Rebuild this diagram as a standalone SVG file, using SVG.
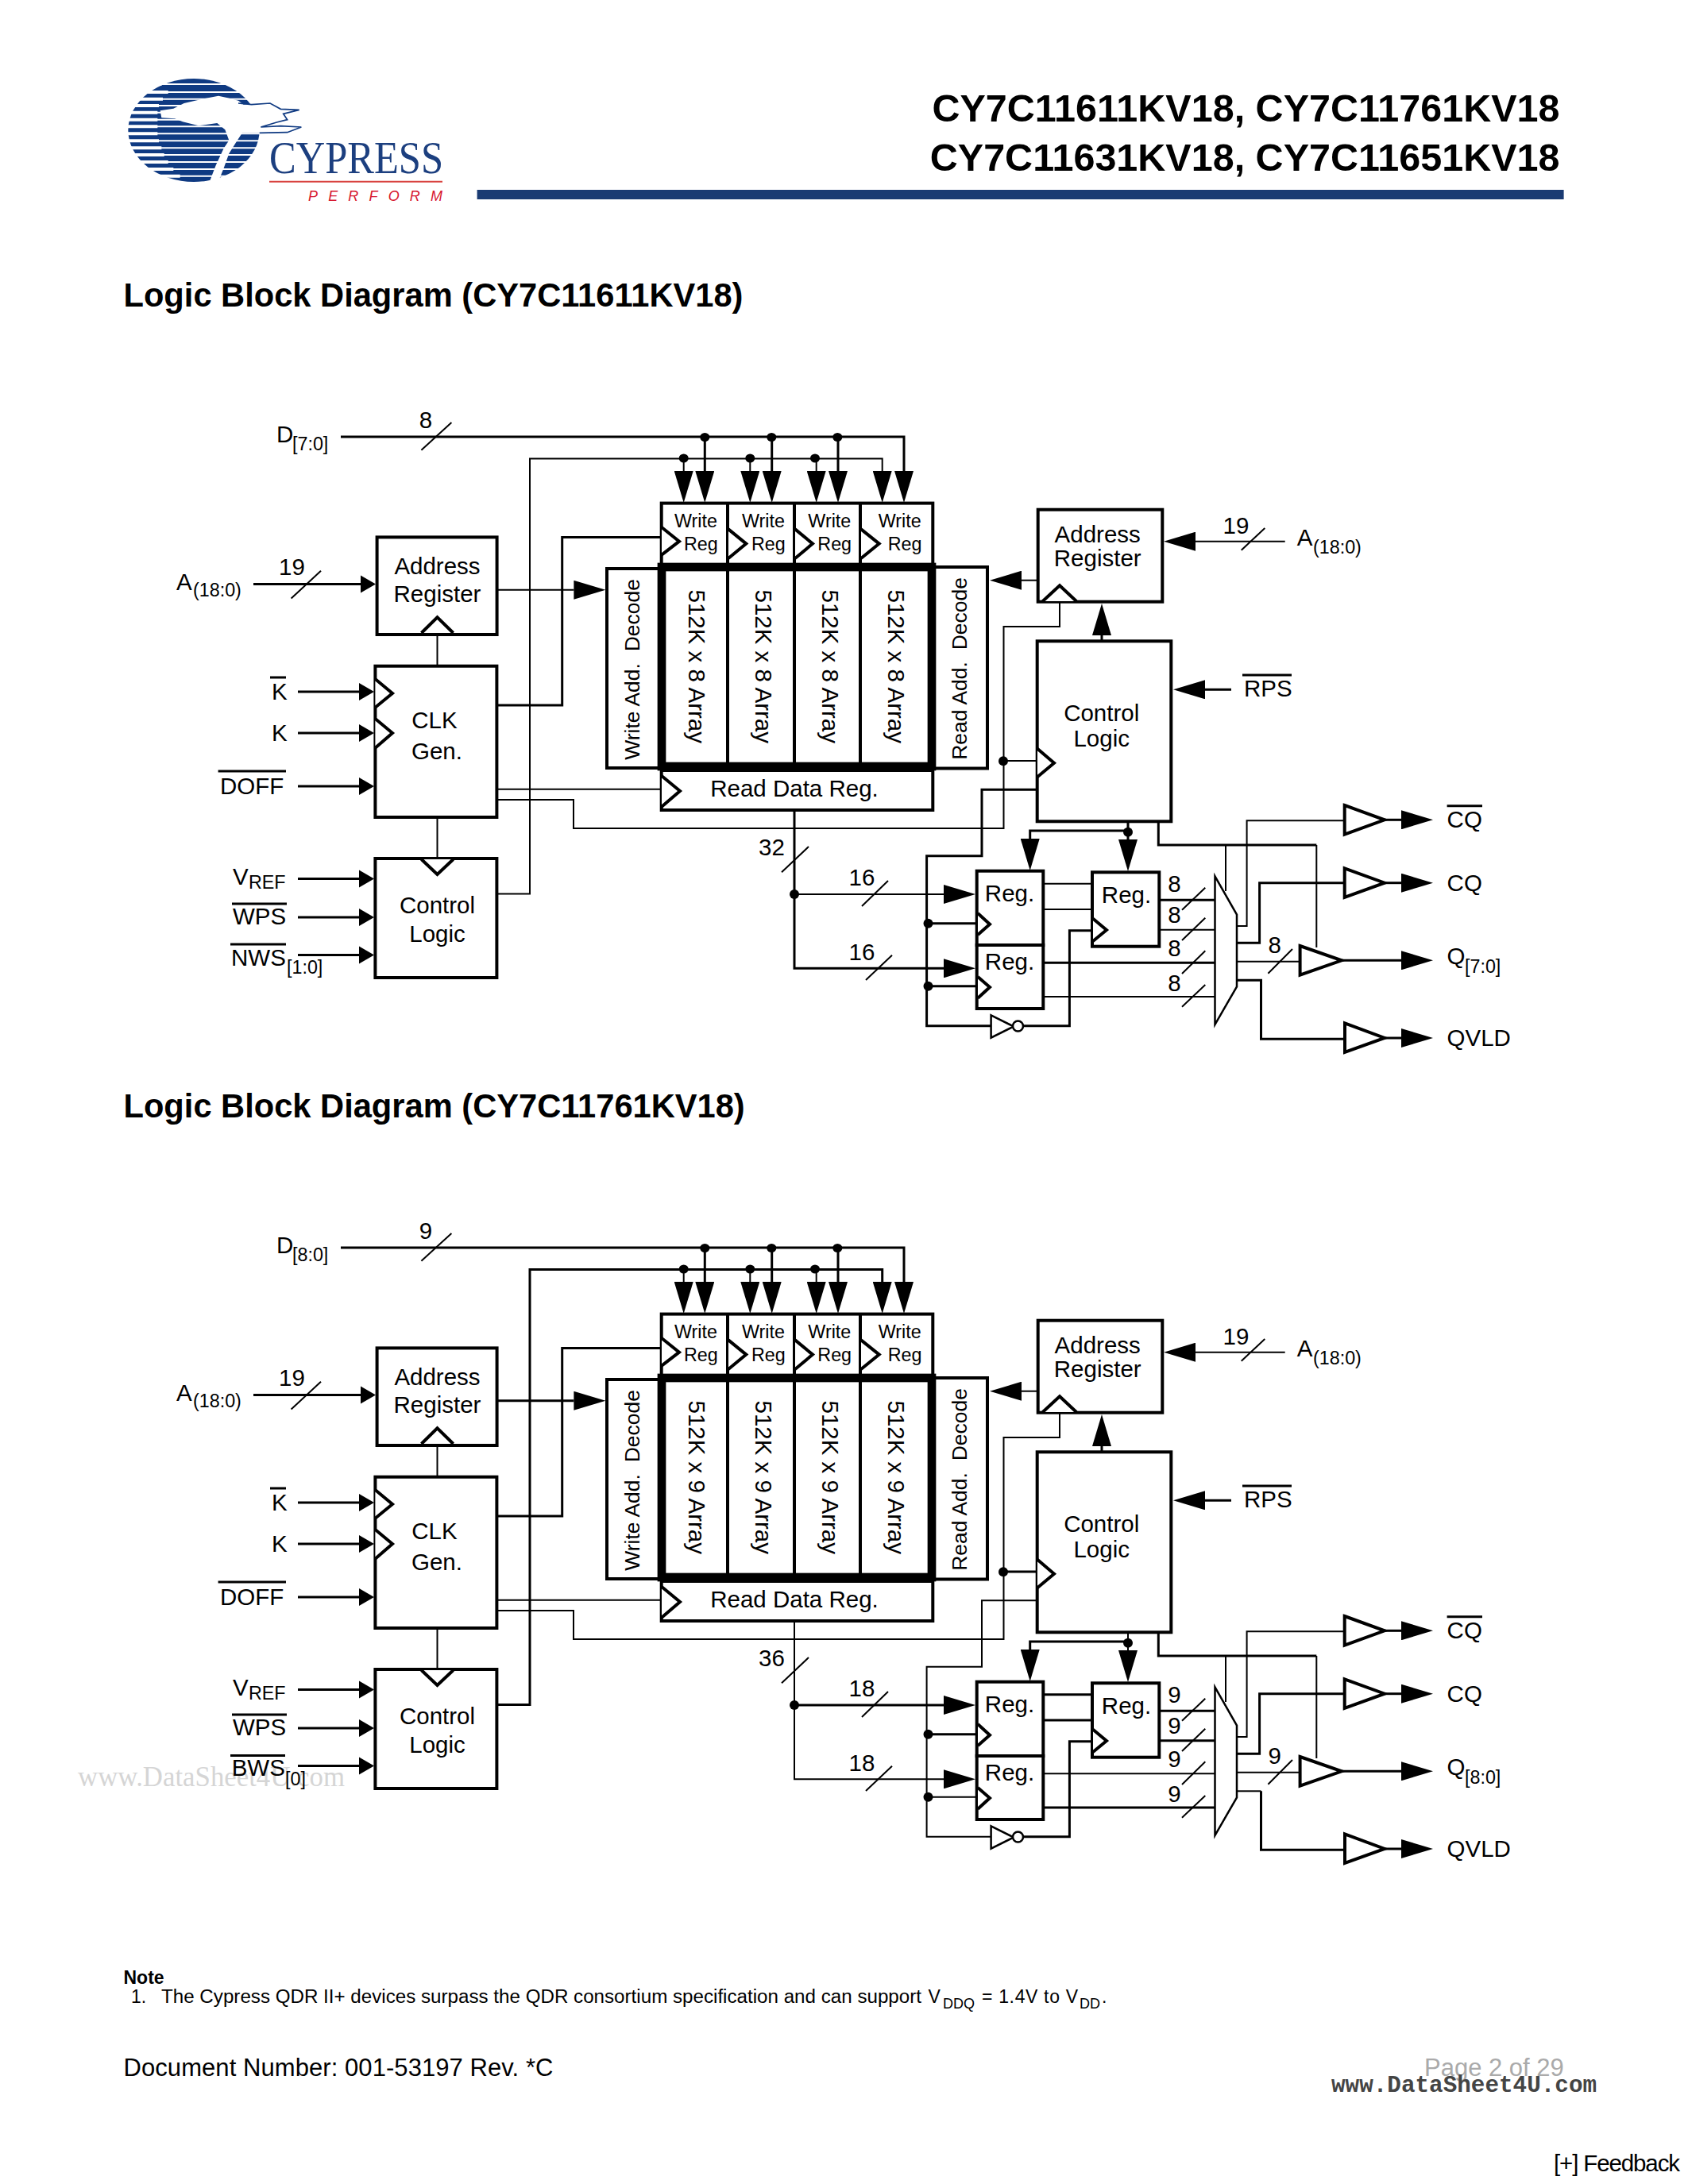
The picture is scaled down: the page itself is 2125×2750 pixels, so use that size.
<svg xmlns="http://www.w3.org/2000/svg" width="2125" height="2750" viewBox="0 0 2125 2750">
<style>
text{font-family:"Liberation Sans",Arial,sans-serif;fill:#000;font-size:29.5px}
.m{text-anchor:middle}
.s{font-size:23.3px}
.d{font-size:26.5px;white-space:pre}
.b{font-weight:bold}
.x{fill:#fff;stroke:#000;stroke-width:4}
.tri{fill:#fff;stroke:#000;stroke-width:4}
.th{fill:#fff;stroke:#000;stroke-width:2.5}
.l{fill:none;stroke:#000;stroke-width:3}
.h{fill:none;stroke:#000;stroke-width:2}
.dot{fill:#000}
.as{marker-end:url(#as)}
.al{marker-end:url(#al)}
</style>
<defs>
<marker id="as" markerUnits="userSpaceOnUse" markerWidth="20" markerHeight="24" refX="0" refY="12" orient="auto"><path d="M0,1 L19,12 L0,23z"/></marker>
<marker id="al" markerUnits="userSpaceOnUse" markerWidth="41" markerHeight="24" refX="0" refY="12" orient="auto"><path d="M0,0 L40,12 L0,24z"/></marker>
</defs>
<rect width="2125" height="2750" fill="#fff"/>
<g id="logo">
<g transform="translate(140,80) scale(.33333)">
<ellipse cx="312" cy="252" rx="248" ry="195" fill="#0f3a82"/>
<path d="M50,78H580M50,108H580M50,134H580M50,159H580M50,185H580M50,212H580M50,238H580M50,265H580M50,292H580M50,319H580M50,345H580M50,372H580M50,399H580M50,425H580" fill="none" stroke="#fff" stroke-width="6"/>
<path d="M50,78H190M50,108H215M50,134H195M50,159H180M50,185H175M50,212H175M50,238H175M50,265H175M50,292H180M50,319H190M50,345H200M50,372H215M50,399H235M50,425H260" fill="none" stroke="#fff" stroke-width="12"/>
<path d="M185,178 L235,170 L275,150 L340,135 L405,122 L440,130 L480,140 L500,155 L560,150 L610,155 L640,172 L710,175 L650,190 L665,212 L625,222 L565,240 L640,236 L718,240 L665,260 L560,262 L495,262 L470,300 L445,340 L425,395 L405,445 L372,445 L395,385 L425,320 L445,290 L430,250 L400,225 L330,235 L270,220 L240,208 L190,205 Z" fill="#fff"/>
<path d="M480,150 L530,155 L600,150 L640,172 L710,175 L650,190 L665,212 L625,222 L565,240 L640,236 L718,240 L665,260 L560,262" fill="none" stroke="#0f3a82" stroke-width="5"/>
</g>
<text x="339" y="218.3" textLength="219" lengthAdjust="spacingAndGlyphs" style="font-family:'Liberation Serif',serif;font-size:58px;fill:#1c3f7f">CYPRESS</text>
<line x1="339" y1="228.7" x2="557" y2="228.7" stroke="#d9433f" stroke-width="2"/>
<text x="388" y="252.7" textLength="169" style="font-size:18px;font-style:italic;fill:#d7172f">PERFORM</text>
</g>
<g id="header">
<text class="b" x="1963.5" y="152.7" text-anchor="end" style="font-size:48.5px">CY7C11611KV18, CY7C11761KV18</text>
<text class="b" x="1963.5" y="215" text-anchor="end" style="font-size:48.5px">CY7C11631KV18, CY7C11651KV18</text>
<rect x="600.6" y="239" width="1368" height="12" fill="#1a3b73"/>
<text class="b" x="155.5" y="386" style="font-size:41.65px">Logic Block Diagram (CY7C11611KV18)</text>
<text class="b" x="155.5" y="1407" style="font-size:41.65px">Logic Block Diagram (CY7C11761KV18)</text>
</g>
<text id="watermark-left" x="98" y="2248.7" textLength="336" lengthAdjust="spacingAndGlyphs" style="font-family:'Liberation Serif',serif;font-size:35px;fill:#d5d5d5">www.DataSheet4U.com</text>

<g id="diagram1">
<g id="d1-nodes">
<g id="d1-addr-left"><rect class="x" x="474.6" y="676.4" width="151" height="122.6"/><polyline class="tri" points="530.5,797 550.5,777.4 570.6,797"/><text class="m" x="550.5" y="723">Address</text><text class="m" x="550.5" y="758">Register</text></g>
<g id="d1-clkgen"><rect class="x" x="472.4" y="838.7" width="153" height="190.3"/><polyline class="tri" points="472.4,855 494,873 472.4,890.7"/><polyline class="tri" points="472.4,905 494,923 472.4,941.7"/><text class="m" x="547" y="917">CLK</text><text class="m" x="550" y="955.5">Gen.</text></g>
<g id="d1-ctrl-left"><rect class="x" x="472.4" y="1081" width="153" height="150"/><polyline class="tri" points="530.5,1082 550.5,1101 570.6,1082"/><text class="m" x="550.5" y="1150">Control</text><text class="m" x="550.5" y="1185.6">Logic</text></g>
<g id="d1-write-decode"><rect class="x" x="764" y="716" width="66" height="251"/><text class="d" transform="rotate(-90 805 956.8)" x="805" y="956.8">Write Add.&#160; Decode</text></g>
<g id="d1-read-decode"><rect class="x" x="1176" y="714" width="67" height="253.5"/><text class="d" transform="rotate(-90 1217.3 956.8)" x="1217.3" y="956.8">Read Add.&#160; Decode</text></g>
<g id="d1-write-regs"><rect class="x" x="832.7" y="633.6" width="341.6" height="78"/><path class="x" d="M916,634V710M1000,634V710M1083,634V710"/>
<polyline class="tri" points="833,664 855,681.6 833,698.6"/><polyline class="tri" points="917,666.4 939.3,684.6 917,703"/><polyline class="tri" points="1001,666.4 1023,684.6 1001,703"/><polyline class="tri" points="1084,666.4 1106.7,684.6 1084,703"/>
<text class="s m" x="876" y="664">Write</text><text class="s m" x="882.3" y="692.5">Reg</text><text class="s m" x="961" y="664">Write</text><text class="s m" x="967.3" y="692.5">Reg</text><text class="s m" x="1044.3" y="664">Write</text><text class="s m" x="1050.7" y="692.5">Reg</text><text class="s m" x="1132.7" y="664">Write</text><text class="s m" x="1139" y="692.5">Reg</text></g>
<g id="d1-array"><rect x="833" y="714" width="340" height="251" fill="#fff" stroke="#000" stroke-width="10.7"/><path class="x" d="M916,714V965M1000,714V965M1083,714V965"/>
<text transform="rotate(90 867.3 742.5)" x="867.3" y="742.5">512K x 8 Array</text><text transform="rotate(90 950.7 742.5)" x="950.7" y="742.5">512K x 8 Array</text><text transform="rotate(90 1034.7 742.5)" x="1034.7" y="742.5">512K x 8 Array</text><text transform="rotate(90 1117.7 742.5)" x="1117.7" y="742.5">512K x 8 Array</text></g>
<g id="d1-read-data"><rect class="x" x="832.7" y="970" width="341.6" height="50"/><polyline class="tri" points="833,977 856,996 833,1015.7"/><text class="m" x="1000" y="1003">Read Data Reg.</text></g>
<g id="d1-addr-right"><rect class="x" x="1306.7" y="641.7" width="156.6" height="116"/><polyline class="tri" points="1312.7,757 1334,737.3 1355,757"/><text class="m" x="1381.7" y="683.3">Address</text><text class="m" x="1381.7" y="713.3">Register</text></g>
<g id="d1-ctrl-right"><rect class="x" x="1305.7" y="807.3" width="168.6" height="227"/><polyline class="tri" points="1306,942.7 1327,960.7 1306,978.3"/><text class="m" x="1386.7" y="908.3">Control</text><text class="m" x="1386.7" y="940">Logic</text></g>
<g id="d1-reg1"><rect class="x" x="1229.7" y="1096.7" width="83.6" height="93.3"/><polyline class="tri" points="1231,1150 1246,1163.7 1231,1177"/><text class="m" x="1271" y="1135">Reg.</text></g>
<g id="d1-reg2"><rect class="x" x="1229.7" y="1190" width="83.6" height="80"/><polyline class="tri" points="1231,1230 1246,1243 1231,1256.7"/><text class="m" x="1271" y="1221">Reg.</text></g>
<g id="d1-reg3"><rect class="x" x="1375" y="1098.3" width="84.3" height="93.4"/><polyline class="tri" points="1376,1156.7 1393,1171 1376,1185"/><text class="m" x="1418" y="1136.7">Reg.</text></g>
<g id="d1-mux"><polygon class="th" points="1529.5,1103.3 1557,1151.7 1557,1242.3 1529.5,1290"/></g>
<g id="d1-inv"><polygon class="th" points="1247.6,1278.3 1276,1292.5 1247.6,1306.7"/><ellipse class="th" cx="1281.5" cy="1292" rx="6.5" ry="6.5"/></g>
<g id="d1-buf-cqb"><polygon class="tri" points="1692.7,1014 1743,1032.3 1692.7,1050.7"/></g>
<g id="d1-buf-cq"><polygon class="tri" points="1692.7,1093.3 1743,1111.7 1692.7,1130"/></g>
<g id="d1-buf-q"><polygon class="tri" points="1636.6,1191 1689,1209.3 1636.6,1227.7"/></g>
<g id="d1-buf-qvld"><polygon class="tri" points="1693,1288.3 1743,1307 1693,1325"/></g>
</g>
<g id="d1-connectors">
<path class="l al" d="M429,550H1138V593"/><path class="l al" d="M887.3,550V593"/><path class="l al" d="M971.7,550V593"/><path class="l al" d="M1055,550V593"/>
<path class="h" d="M530.4,566.7L568.4,532"/>
<path class="h al" d="M625.5,1125.4H667V577.5H1110.7V593"/><path class="h al" d="M860.7,577.5V593"/><path class="h al" d="M944.3,577.5V593"/><path class="h al" d="M1027.7,577.5V593"/>
<ellipse class="dot" cx="887.3" cy="550.5" rx="6" ry="5.5"/><ellipse class="dot" cx="971.3" cy="550.5" rx="6" ry="5.5"/><ellipse class="dot" cx="1054.3" cy="550.5" rx="6" ry="5.5"/><ellipse class="dot" cx="860.7" cy="577" rx="6" ry="5.5"/><ellipse class="dot" cx="944.3" cy="577" rx="6" ry="5.5"/><ellipse class="dot" cx="1026" cy="577" rx="6" ry="5.5"/>
<path class="l as" d="M319,735.6H454"/><path class="h" d="M366.6,753.5L404,718.8"/>
<path class="h al" d="M625.5,742.8H722.4"/><path class="h" d="M550.5,799V838.7M550.5,1029V1082"/>
<path class="l as" d="M375,871H452"/><path class="l as" d="M375,923H452"/><path class="l as" d="M375,990H452"/><path class="l as" d="M375,1106.5H452"/><path class="l as" d="M375,1155H452"/><path class="l as" d="M375,1202.5H452"/>
<path class="l" d="M625.5,888H707.7V676.4H832"/><path class="h" d="M625.5,993.8H832"/><path class="h" d="M625.5,1007H722V1043H1263.5V789H1334V757"/>
<ellipse class="dot" cx="1263" cy="958.3" rx="6" ry="6"/><path class="h" d="M1263,958H1306"/>
<path class="l al" d="M1000,1020V1219.3H1188"/><path class="h al" d="M1000,1126H1188"/><ellipse class="dot" cx="1000" cy="1126" rx="6" ry="6"/>
<path class="h" d="M984,1098.3L1018,1066M1085,1141L1118,1109M1090,1234L1123,1202.7"/>
<path class="l" d="M1305,994.3H1236V1077.7H1166.6V1291.7H1247.6"/><path class="l" d="M1168,1162.7H1231"/><path class="l" d="M1168,1241.7H1231"/><ellipse class="dot" cx="1168.5" cy="1162.7" rx="6" ry="6"/><ellipse class="dot" cx="1168.5" cy="1241.7" rx="6" ry="6"/>
<path class="l" d="M1288,1291.7H1346.4V1171.7H1375"/><path class="h" d="M1313.3,1112.7H1375M1313.3,1145H1375"/>
<path class="l" d="M1459,1133.3H1529.5M1313.3,1212.3H1529.5"/><path class="h" d="M1459,1170.7H1529.5M1313.3,1255H1529.5"/>
<path class="h" d="M1488,1145.7L1517.3,1117.7M1488,1184L1517.3,1155.7M1488,1226L1517.3,1197.3M1488,1267.7L1517.3,1240M1596.4,1225.7L1627,1195"/>
<path class="l al" d="M1420,1034V1057"/><path class="l al" d="M1420,1046H1296.7V1056"/><ellipse class="dot" cx="1420" cy="1047.7" rx="6" ry="6"/>
<path class="l" d="M1458.3,1034V1064H1657.3"/><path class="h" d="M1657.3,1064V1193"/><path class="h" d="M1543,1064V1122"/>
<path class="h" d="M1557,1166H1569.6V1033.3H1692.7"/><path class="l" d="M1557,1187.3H1585.6V1111.7H1692.7"/><path class="h" d="M1557,1210.7H1636.6"/><path class="l" d="M1557,1234.3H1587.5V1308.3H1693"/>
<path class="l al" d="M1743,1032.3H1764"/><path class="l al" d="M1743,1111.7H1764"/><path class="l al" d="M1689,1209.3H1764"/><path class="l al" d="M1743,1307H1764"/>
<path class="h al" d="M1617.7,681.7H1505"/><path class="h" d="M1562.7,692.7L1592.3,665"/><path class="h al" d="M1306.7,730.7H1286"/><path class="l al" d="M1387,807V800"/><path class="l al" d="M1550,868.3H1517"/>
</g>
<g id="d1-labels">
<text x="348" y="556.5">D</text><text class="s" x="368" y="567">[7:0]</text><text class="m" x="536" y="538.7">8</text>
<text x="222" y="743">A</text><text class="s" x="243" y="751">(18:0)</text><text class="m" x="367.5" y="724">19</text>
<text x="342" y="880.5">K</text><path class="l" d="M340,853H360"/><text x="342" y="932.5">K</text>
<text x="277" y="1000.4">DOFF</text><path class="l" d="M274.6,971H360"/>
<text x="293" y="1114">V</text><text class="s" x="313" y="1119">REF</text>
<text x="293" y="1164">WPS</text><path class="l" d="M292,1138H361"/>
<text x="291" y="1216">NWS</text><text class="s" x="361" y="1226.4">[1:0]</text><path class="l" d="M290,1189H360"/>
<text class="m" x="1556" y="672.3">19</text><text x="1632.7" y="687.3">A</text><text class="s" x="1653" y="696.7">(18:0)</text>
<text x="1566" y="876.7">RPS</text><path class="l" d="M1564,850H1626"/>
<text class="m" x="971.4" y="1077.3">32</text><text class="m" x="1085" y="1115.3">16</text><text class="m" x="1085" y="1209.3">16</text>
<text class="m" x="1478.5" y="1123.3">8</text><text class="m" x="1478.5" y="1162.3">8</text><text class="m" x="1478.5" y="1204">8</text><text class="m" x="1478.5" y="1247.7">8</text><text class="m" x="1604.7" y="1200">8</text>
<text x="1821.6" y="1042.3">CQ</text><path class="l" d="M1821.6,1014.7H1866"/><text x="1821.6" y="1121.7">CQ</text><text x="1821.6" y="1214">Q</text><text class="s" x="1844" y="1225">[7:0]</text><text x="1821.6" y="1316.7">QVLD</text>
</g>
</g>

<g id="diagram2" transform="translate(0,1021)">
<g id="d2-nodes">
<g id="d2-addr-left"><rect class="x" x="474.6" y="676.4" width="151" height="122.6"/><polyline class="tri" points="530.5,797 550.5,777.4 570.6,797"/><text class="m" x="550.5" y="723">Address</text><text class="m" x="550.5" y="758">Register</text></g>
<g id="d2-clkgen"><rect class="x" x="472.4" y="838.7" width="153" height="190.3"/><polyline class="tri" points="472.4,855 494,873 472.4,890.7"/><polyline class="tri" points="472.4,905 494,923 472.4,941.7"/><text class="m" x="547" y="917">CLK</text><text class="m" x="550" y="955.5">Gen.</text></g>
<g id="d2-ctrl-left"><rect class="x" x="472.4" y="1081" width="153" height="150"/><polyline class="tri" points="530.5,1082 550.5,1101 570.6,1082"/><text class="m" x="550.5" y="1150">Control</text><text class="m" x="550.5" y="1185.6">Logic</text></g>
<g id="d2-write-decode"><rect class="x" x="764" y="716" width="66" height="251"/><text class="d" transform="rotate(-90 805 956.8)" x="805" y="956.8">Write Add.&#160; Decode</text></g>
<g id="d2-read-decode"><rect class="x" x="1176" y="714" width="67" height="253.5"/><text class="d" transform="rotate(-90 1217.3 956.8)" x="1217.3" y="956.8">Read Add.&#160; Decode</text></g>
<g id="d2-write-regs"><rect class="x" x="832.7" y="633.6" width="341.6" height="78"/><path class="x" d="M916,634V710M1000,634V710M1083,634V710"/>
<polyline class="tri" points="833,664 855,681.6 833,698.6"/><polyline class="tri" points="917,666.4 939.3,684.6 917,703"/><polyline class="tri" points="1001,666.4 1023,684.6 1001,703"/><polyline class="tri" points="1084,666.4 1106.7,684.6 1084,703"/>
<text class="s m" x="876" y="664">Write</text><text class="s m" x="882.3" y="692.5">Reg</text><text class="s m" x="961" y="664">Write</text><text class="s m" x="967.3" y="692.5">Reg</text><text class="s m" x="1044.3" y="664">Write</text><text class="s m" x="1050.7" y="692.5">Reg</text><text class="s m" x="1132.7" y="664">Write</text><text class="s m" x="1139" y="692.5">Reg</text></g>
<g id="d2-array"><rect x="833" y="714" width="340" height="251" fill="#fff" stroke="#000" stroke-width="10.7"/><path class="x" d="M916,714V965M1000,714V965M1083,714V965"/>
<text transform="rotate(90 867.3 742.5)" x="867.3" y="742.5">512K x 9 Array</text><text transform="rotate(90 950.7 742.5)" x="950.7" y="742.5">512K x 9 Array</text><text transform="rotate(90 1034.7 742.5)" x="1034.7" y="742.5">512K x 9 Array</text><text transform="rotate(90 1117.7 742.5)" x="1117.7" y="742.5">512K x 9 Array</text></g>
<g id="d2-read-data"><rect class="x" x="832.7" y="970" width="341.6" height="50"/><polyline class="tri" points="833,977 856,996 833,1015.7"/><text class="m" x="1000" y="1003">Read Data Reg.</text></g>
<g id="d2-addr-right"><rect class="x" x="1306.7" y="641.7" width="156.6" height="116"/><polyline class="tri" points="1312.7,757 1334,737.3 1355,757"/><text class="m" x="1381.7" y="683.3">Address</text><text class="m" x="1381.7" y="713.3">Register</text></g>
<g id="d2-ctrl-right"><rect class="x" x="1305.7" y="807.3" width="168.6" height="227"/><polyline class="tri" points="1306,942.7 1327,960.7 1306,978.3"/><text class="m" x="1386.7" y="908.3">Control</text><text class="m" x="1386.7" y="940">Logic</text></g>
<g id="d2-reg1"><rect class="x" x="1229.7" y="1096.7" width="83.6" height="93.3"/><polyline class="tri" points="1231,1150 1246,1163.7 1231,1177"/><text class="m" x="1271" y="1135">Reg.</text></g>
<g id="d2-reg2"><rect class="x" x="1229.7" y="1190" width="83.6" height="80"/><polyline class="tri" points="1231,1230 1246,1243 1231,1256.7"/><text class="m" x="1271" y="1221">Reg.</text></g>
<g id="d2-reg3"><rect class="x" x="1375" y="1098.3" width="84.3" height="93.4"/><polyline class="tri" points="1376,1156.7 1393,1171 1376,1185"/><text class="m" x="1418" y="1136.7">Reg.</text></g>
<g id="d2-mux"><polygon class="th" points="1529.5,1103.3 1557,1151.7 1557,1242.3 1529.5,1290"/></g>
<g id="d2-inv"><polygon class="th" points="1247.6,1278.3 1276,1292.5 1247.6,1306.7"/><ellipse class="th" cx="1281.5" cy="1292" rx="6.5" ry="6.5"/></g>
<g id="d2-buf-cqb"><polygon class="tri" points="1692.7,1014 1743,1032.3 1692.7,1050.7"/></g>
<g id="d2-buf-cq"><polygon class="tri" points="1692.7,1093.3 1743,1111.7 1692.7,1130"/></g>
<g id="d2-buf-q"><polygon class="tri" points="1636.6,1191 1689,1209.3 1636.6,1227.7"/></g>
<g id="d2-buf-qvld"><polygon class="tri" points="1693,1288.3 1743,1307 1693,1325"/></g>
</g>
<g id="d2-connectors">
<path class="l al" d="M429,550H1138V593"/><path class="l al" d="M887.3,550V593"/><path class="l al" d="M971.7,550V593"/><path class="l al" d="M1055,550V593"/>
<path class="h" d="M530.4,566.7L568.4,532"/>
<path class="l al" d="M625.5,1125.4H667V577.5H1110.7V593"/><path class="h al" d="M860.7,577.5V593"/><path class="h al" d="M944.3,577.5V593"/><path class="h al" d="M1027.7,577.5V593"/>
<ellipse class="dot" cx="887.3" cy="550.5" rx="6" ry="5.5"/><ellipse class="dot" cx="971.3" cy="550.5" rx="6" ry="5.5"/><ellipse class="dot" cx="1054.3" cy="550.5" rx="6" ry="5.5"/><ellipse class="dot" cx="860.7" cy="577" rx="6" ry="5.5"/><ellipse class="dot" cx="944.3" cy="577" rx="6" ry="5.5"/><ellipse class="dot" cx="1026" cy="577" rx="6" ry="5.5"/>
<path class="l as" d="M319,735.6H454"/><path class="h" d="M366.6,753.5L404,718.8"/>
<path class="l al" d="M625.5,742.8H722.4"/><path class="h" d="M550.5,799V838.7M550.5,1029V1082"/>
<path class="l as" d="M375,871H452"/><path class="l as" d="M375,923H452"/><path class="l as" d="M375,990H452"/><path class="l as" d="M375,1106.5H452"/><path class="l as" d="M375,1155H452"/><path class="l as" d="M375,1202.5H452"/>
<path class="l" d="M625.5,888H707.7V676.4H832"/><path class="h" d="M625.5,993.8H832"/><path class="h" d="M625.5,1007H722V1043H1263.5V789H1334V757"/>
<ellipse class="dot" cx="1263" cy="958.3" rx="6" ry="6"/><path class="l" d="M1263,958H1306"/>
<path class="h al" d="M1000,1020V1219.3H1188"/><path class="l al" d="M1000,1126H1188"/><ellipse class="dot" cx="1000" cy="1126" rx="6" ry="6"/>
<path class="h" d="M984,1098.3L1018,1066M1085,1141L1118,1109M1090,1234L1123,1202.7"/>
<path class="h" d="M1305,994.3H1236V1077.7H1166.6V1291.7H1247.6"/><path class="l" d="M1168,1162.7H1231"/><path class="h" d="M1168,1241.7H1231"/><ellipse class="dot" cx="1168.5" cy="1162.7" rx="6" ry="6"/><ellipse class="dot" cx="1168.5" cy="1241.7" rx="6" ry="6"/>
<path class="l" d="M1288,1291.7H1346.4V1171.7H1375"/><path class="l" d="M1313.3,1112.7H1375M1313.3,1145H1375"/>
<path class="l" d="M1459,1133.3H1529.5M1459,1170.7H1529.5M1313.3,1255H1529.5"/><path class="h" d="M1313.3,1212.3H1529.5"/>
<path class="h" d="M1488,1145.7L1517.3,1117.7M1488,1184L1517.3,1155.7M1488,1226L1517.3,1197.3M1488,1267.7L1517.3,1240M1596.4,1225.7L1627,1195"/>
<path class="h al" d="M1420,1034V1057"/><path class="l al" d="M1420,1046H1296.7V1056"/><ellipse class="dot" cx="1420" cy="1047.7" rx="6" ry="6"/>
<path class="l" d="M1458.3,1034V1064H1657.3"/><path class="h" d="M1657.3,1064V1193"/><path class="h" d="M1543,1064V1122"/>
<path class="h" d="M1557,1166H1569.6V1033.3H1692.7"/><path class="l" d="M1557,1187.3H1585.6V1111.7H1692.7"/><path class="h" d="M1557,1210.7H1636.6"/><path class="h" d="M1557,1234.3H1587.5"/><path class="l" d="M1587.5,1234.3V1308.3H1693"/>
<path class="l al" d="M1743,1032.3H1764"/><path class="l al" d="M1743,1111.7H1764"/><path class="l al" d="M1689,1209.3H1764"/><path class="l al" d="M1743,1307H1764"/>
<path class="h al" d="M1617.7,681.7H1505"/><path class="h" d="M1562.7,692.7L1592.3,665"/><path class="h al" d="M1306.7,730.7H1286"/><path class="l al" d="M1387,807V800"/><path class="l al" d="M1550,868.3H1517"/>
</g>
<g id="d2-labels">
<text x="348" y="556.5">D</text><text class="s" x="368" y="567">[8:0]</text><text class="m" x="536" y="538.7">9</text>
<text x="222" y="743">A</text><text class="s" x="243" y="751">(18:0)</text><text class="m" x="367.5" y="724">19</text>
<text x="342" y="880.5">K</text><path class="l" d="M340,853H360"/><text x="342" y="932.5">K</text>
<text x="277" y="1000.4">DOFF</text><path class="l" d="M274.6,971H360"/>
<text x="293" y="1114">V</text><text class="s" x="313" y="1119">REF</text>
<text x="293" y="1164">WPS</text><path class="l" d="M292,1138H361"/>
<text x="291.7" y="1215">BWS</text><text class="s" x="359" y="1226.8">[0]</text><path class="l" d="M290,1189.4H359"/>
<text class="m" x="1556" y="672.3">19</text><text x="1632.7" y="687.3">A</text><text class="s" x="1653" y="696.7">(18:0)</text>
<text x="1566" y="876.7">RPS</text><path class="l" d="M1564,850H1626"/>
<text class="m" x="971.4" y="1077.3">36</text><text class="m" x="1085" y="1115.3">18</text><text class="m" x="1085" y="1209.3">18</text>
<text class="m" x="1478.5" y="1123.3">9</text><text class="m" x="1478.5" y="1162.3">9</text><text class="m" x="1478.5" y="1204">9</text><text class="m" x="1478.5" y="1247.7">9</text><text class="m" x="1604.7" y="1200">9</text>
<text x="1821.6" y="1042.3">CQ</text><path class="l" d="M1821.6,1014.7H1866"/><text x="1821.6" y="1121.7">CQ</text><text x="1821.6" y="1214">Q</text><text class="s" x="1844" y="1225">[8:0]</text><text x="1821.6" y="1316.7">QVLD</text>
</g>
</g>

<g id="footer">
<text class="b" x="155.5" y="2497.5" style="font-size:23px">Note</text>
<text x="165" y="2522" style="font-size:23px">1.</text>
<text x="203" y="2522" textLength="957" lengthAdjust="spacingAndGlyphs" style="font-size:23px">The Cypress QDR II+ devices surpass the QDR consortium specification and can support</text>
<text x="1168.6" y="2522" style="font-size:23px">V</text><text x="1187" y="2529" style="font-size:18px">DDQ</text><text x="1236" y="2522" textLength="121" style="font-size:23px">= 1.4V to V</text><text x="1359" y="2529" style="font-size:18px">DD</text><text x="1387" y="2522" style="font-size:23px">.</text>
<text x="155.5" y="2614" textLength="541" style="font-size:31px">Document Number: 001-53197 Rev. *C</text>
<text x="1793" y="2614" style="font-size:31px;fill:#aaa">Page 2 of 29</text>
<text x="1676" y="2634" style="font-family:'Liberation Mono',monospace;font-weight:bold;font-size:29.3px;fill:#444">www.DataSheet4U.com</text>
<text x="1956" y="2733.6" textLength="159">[+] Feedback</text>
</g>
</svg>
